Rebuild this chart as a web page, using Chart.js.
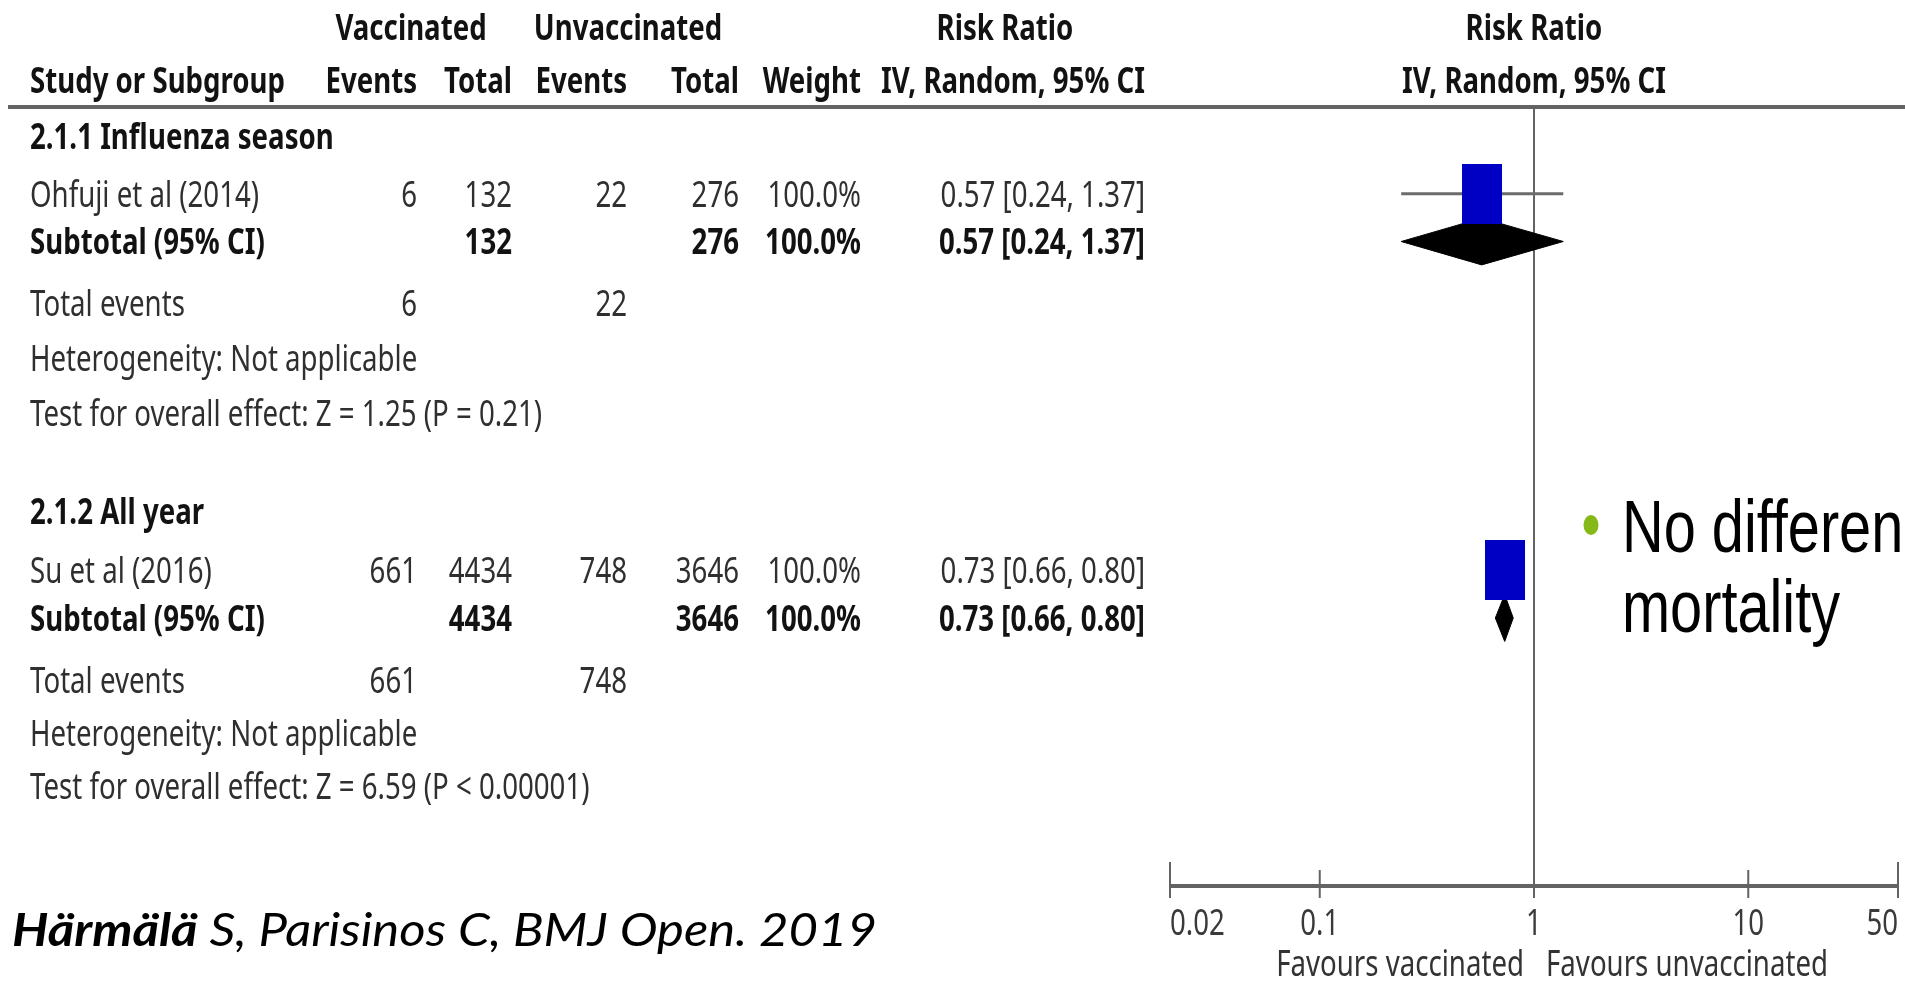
<!DOCTYPE html>
<html>
<head>
<meta charset="utf-8">
<title>Forest plot – mortality, vaccinated vs unvaccinated</title>
<script src="https://cdn.jsdelivr.net/npm/chart.js@4.4.1/dist/chart.umd.min.js"></script>
<style>
  html, body { margin: 0; padding: 0; background: #ffffff; overflow: hidden; }
  canvas { display: block; }
</style>
</head>
<body>
<canvas id="forest" width="1905" height="987"></canvas>
<script>
// ---------------- data ----------------
const groups = ['2.1.1 Influenza season', '2.1.2 All year'];
const studies = ['Ohfuji et al (2014)', 'Su et al (2016)'];
const vaccEvents = [6, 661];
const vaccTotal = [132, 4434];
const unvaccEvents = [22, 748];
const unvaccTotal = [276, 3646];
const weights = [100.0, 100.0];
const studyRR = [0.57, 0.73];
const studyLow = [0.24, 0.66];
const studyHigh = [1.37, 0.80];
const subtotalRR = [0.57, 0.73];
const subtotalLow = [0.24, 0.66];
const subtotalHigh = [1.37, 0.80];
const heterogeneity = ['Not applicable', 'Not applicable'];
const zValues = [1.25, 6.59];
const pTexts = ['P = 0.21', 'P < 0.00001'];
const axisTicks = [0.02, 0.1, 1, 10, 50];
const tickLabels = ['0.02', '0.1', '1', '10', '50'];
const favourLabels = ['Favours vaccinated', 'Favours unvaccinated'];
const bulletLines = ['No difference in', 'mortality'];
const citationBold = 'Härmälä';
const citationRest = ' S, Parisinos C, BMJ Open. 2019';

// ---------------- layout ----------------
// vertical positions are in "line" units of the y scale (0 = header rule)
const ROW = {
  head1: -1.54,
  head2: -0.52,
  group: [0.56, 7.78],
  study: [1.67, 8.91],
  subtotal: [2.59, 9.84],
  totalEvents: [3.77, 11.03],
  het: [4.83, 12.05],
  test: [5.89, 13.08]
};
const COL = { label: 30, vaccEvents: 417, vaccTotal: 512, unvaccEvents: 627, unvaccTotal: 739, weight: 861, rr: 1145 };
const HEAD_CENTER = { vacc: 411, unvacc: 628, rr: 1005 };
const TABLE_FONT = '"Noto Sans", "DejaVu Sans", sans-serif';
const TABLE_SIZE = 34;
const TABLE_SY = 1.06;                       // lettering is slightly taller than the font's own shape
const CAP = 0.714 * TABLE_SIZE * TABLE_SY;
const LABEL_HEADER_WIDTH = 255;
const SQUARE_W = 40, SQUARE_H = 60;
const DIAMOND_HALF = 0.45;
const COLOR_TEXT = '#2f2f2f', COLOR_BOLD = '#121212', COLOR_RULE = '#636363';

const fmt2 = v => v.toFixed(2);
const ciText = (rr, lo, hi) => fmt2(rr) + ' [' + fmt2(lo) + ', ' + fmt2(hi) + ']';

// marker for a study: blue box sized by its weight
function studyBox(weight) {
  const k = Math.sqrt(weight / 100);
  const c = document.createElement('canvas');
  c.width = Math.round(SQUARE_W * k);
  c.height = Math.round(SQUARE_H * k);
  const g = c.getContext('2d');
  g.fillStyle = '#0000c4';
  g.fillRect(0, 0, c.width, c.height);
  return c;
}

const datasets = [];
studies.forEach((name, i) => {
  datasets.push({
    label: name + ' 95% CI',
    data: [{ x: studyLow[i], y: ROW.study[i] }, { x: studyHigh[i], y: ROW.study[i] }],
    showLine: true, borderColor: '#6b6b6b', borderWidth: 3, pointRadius: 0, fill: false, order: 3, clip: false
  });
  datasets.push({
    label: name,
    data: [{ x: studyRR[i], y: ROW.study[i] }],
    pointStyle: studyBox(weights[i]), pointRadius: 3, showLine: false, order: 1, clip: false
  });
  const y = ROW.subtotal[i];
  datasets.push({
    label: groups[i] + ' subtotal',
    data: [
      { x: subtotalLow[i], y: y },
      { x: subtotalRR[i], y: y - DIAMOND_HALF },
      { x: subtotalHigh[i], y: y },
      { x: subtotalRR[i], y: y + DIAMOND_HALF },
      { x: subtotalLow[i], y: y }
    ],
    showLine: true, fill: 'shape', backgroundColor: '#000000', borderColor: '#000000',
    borderWidth: 1, pointRadius: 0, tension: 0, order: 2, clip: false
  });
});

// text drawn with a horizontal squeeze so the tall, narrow lettering fits the columns
function drawText(ctx, s, x, baseline, o) {
  ctx.save();
  ctx.font = (o.italic ? 'italic ' : '') + (o.bold ? 'bold ' : '') + o.size + 'px ' + o.family;
  ctx.fillStyle = o.color;
  ctx.textAlign = 'left';
  ctx.textBaseline = 'alphabetic';
  const w = ctx.measureText(s).width * o.sx;
  let left = x;
  if (o.align === 'right') left = x - w;
  else if (o.align === 'center') left = x - w / 2;
  ctx.translate(left, baseline);
  ctx.scale(o.sx, o.sy || 1);
  ctx.fillText(s, 0, 0);
  ctx.restore();
  return w;
}

let tableSx = null;
function tableStyle(ctx, bold, align, color) {
  if (tableSx === null) {
    ctx.save();
    ctx.font = 'bold ' + TABLE_SIZE + 'px ' + TABLE_FONT;
    tableSx = LABEL_HEADER_WIDTH / ctx.measureText('Study or Subgroup').width;
    ctx.restore();
  }
  return { size: TABLE_SIZE, family: TABLE_FONT, bold: bold, align: align, sx: tableSx, sy: TABLE_SY,
           color: color || (bold ? COLOR_BOLD : COLOR_TEXT) };
}

const forestDecor = {
  id: 'forestDecor',
  beforeDatasetsDraw(chart) {
    const { ctx, chartArea: a, scales: { x } } = chart;
    ctx.save();
    ctx.strokeStyle = COLOR_RULE;
    // header rule
    ctx.lineWidth = 4;
    ctx.beginPath(); ctx.moveTo(8, a.top); ctx.lineTo(chart.width, a.top); ctx.stroke();
    // line of no effect
    const x1 = x.getPixelForValue(1);
    ctx.lineWidth = 2;
    ctx.beginPath(); ctx.moveTo(x1, a.top); ctx.lineTo(x1, a.bottom); ctx.stroke();
    // axis line
    ctx.lineWidth = 4;
    ctx.beginPath();
    ctx.moveTo(x.getPixelForValue(x.min) - 1, a.bottom);
    ctx.lineTo(x.getPixelForValue(x.max) + 1, a.bottom);
    ctx.stroke();
    // tick marks
    ctx.lineWidth = 2;
    x.ticks.forEach((t, i) => {
      const px = x.getPixelForValue(t.value);
      const outer = i === 0 || i === x.ticks.length - 1;
      ctx.beginPath();
      ctx.moveTo(px, a.bottom - (outer ? 24 : 16));
      ctx.lineTo(px, a.bottom + 12);
      ctx.stroke();
    });
    ctx.restore();
  },
  afterDraw(chart) {
    const { ctx, chartArea: a, scales: { x, y } } = chart;
    const base = line => y.getPixelForValue(line) + CAP / 2;
    const R = (bold) => tableStyle(ctx, bold, 'right');
    const L = (bold) => tableStyle(ctx, bold, 'left');
    const C = (bold) => tableStyle(ctx, bold, 'center');

    // column headers
    drawText(ctx, 'Vaccinated', HEAD_CENTER.vacc, base(ROW.head1), C(true));
    drawText(ctx, 'Unvaccinated', HEAD_CENTER.unvacc, base(ROW.head1), C(true));
    drawText(ctx, 'Risk Ratio', HEAD_CENTER.rr, base(ROW.head1), C(true));
    const x1 = x.getPixelForValue(1);
    drawText(ctx, 'Risk Ratio', x1, base(ROW.head1), C(true));
    drawText(ctx, 'Study or Subgroup', COL.label, base(ROW.head2), L(true));
    drawText(ctx, 'Events', COL.vaccEvents, base(ROW.head2), R(true));
    drawText(ctx, 'Total', COL.vaccTotal, base(ROW.head2), R(true));
    drawText(ctx, 'Events', COL.unvaccEvents, base(ROW.head2), R(true));
    drawText(ctx, 'Total', COL.unvaccTotal, base(ROW.head2), R(true));
    drawText(ctx, 'Weight', COL.weight, base(ROW.head2), R(true));
    drawText(ctx, 'IV, Random, 95% CI', COL.rr, base(ROW.head2), R(true));
    drawText(ctx, 'IV, Random, 95% CI', x1, base(ROW.head2), C(true));

    // subgroup blocks
    groups.forEach((g, i) => {
      drawText(ctx, g, COL.label, base(ROW.group[i]), L(true));

      let b = base(ROW.study[i]);
      drawText(ctx, studies[i], COL.label, b, L(false));
      drawText(ctx, String(vaccEvents[i]), COL.vaccEvents, b, R(false));
      drawText(ctx, String(vaccTotal[i]), COL.vaccTotal, b, R(false));
      drawText(ctx, String(unvaccEvents[i]), COL.unvaccEvents, b, R(false));
      drawText(ctx, String(unvaccTotal[i]), COL.unvaccTotal, b, R(false));
      drawText(ctx, weights[i].toFixed(1) + '%', COL.weight, b, R(false));
      drawText(ctx, ciText(studyRR[i], studyLow[i], studyHigh[i]), COL.rr, b, R(false));

      b = base(ROW.subtotal[i]);
      drawText(ctx, 'Subtotal (95% CI)', COL.label, b, L(true));
      drawText(ctx, String(vaccTotal[i]), COL.vaccTotal, b, R(true));
      drawText(ctx, String(unvaccTotal[i]), COL.unvaccTotal, b, R(true));
      drawText(ctx, weights[i].toFixed(1) + '%', COL.weight, b, R(true));
      drawText(ctx, ciText(subtotalRR[i], subtotalLow[i], subtotalHigh[i]), COL.rr, b, R(true));

      b = base(ROW.totalEvents[i]);
      drawText(ctx, 'Total events', COL.label, b, L(false));
      drawText(ctx, String(vaccEvents[i]), COL.vaccEvents, b, R(false));
      drawText(ctx, String(unvaccEvents[i]), COL.unvaccEvents, b, R(false));

      drawText(ctx, 'Heterogeneity: ' + heterogeneity[i], COL.label, base(ROW.het[i]), L(false));
      drawText(ctx, 'Test for overall effect: Z = ' + zValues[i].toFixed(2) + ' (' + pTexts[i] + ')',
               COL.label, base(ROW.test[i]), L(false));
    });

    // axis tick labels
    const tickBase = a.bottom + 49;
    x.ticks.forEach((t, i) => {
      const px = x.getPixelForValue(t.value);
      const align = i === 0 ? 'left' : (i === x.ticks.length - 1 ? 'right' : 'center');
      drawText(ctx, tickLabels[i], px, tickBase, tableStyle(ctx, false, align, '#3a3a3a'));
    });
    const favBase = a.bottom + 90;
    drawText(ctx, favourLabels[0], x1 - 10, favBase, tableStyle(ctx, false, 'right', '#333333'));
    drawText(ctx, favourLabels[1], x1 + 12, favBase, tableStyle(ctx, false, 'left', '#333333'));

    // bullet note
    ctx.save();
    ctx.fillStyle = '#86b817';
    ctx.beginPath();
    ctx.ellipse(1591, 525, 7.5, 10, 0, 0, Math.PI * 2);
    ctx.fill();
    ctx.restore();
    const noteStyle = { size: 74, family: '"Liberation Sans", Arial, sans-serif', bold: false, align: 'left', sx: 0.78, color: '#000000' };
    drawText(ctx, bulletLines[0], 1622, 552, noteStyle);
    drawText(ctx, bulletLines[1], 1622, 632, noteStyle);

    // citation
    const citeFont = 'Lato, "Open Sans", sans-serif';
    ctx.save();
    ctx.font = 'italic bold 46px ' + citeFont;
    const wb = ctx.measureText(citationBold).width;
    ctx.font = 'italic 46px ' + citeFont;
    const wr = ctx.measureText(citationRest).width;
    ctx.restore();
    const citeSx = 865 / (wb + wr);
    const w1 = drawText(ctx, citationBold, 12, 946, { size: 46, family: citeFont, bold: true, italic: true, align: 'left', sx: citeSx, color: '#000000' });
    drawText(ctx, citationRest, 12 + w1, 946, { size: 46, family: citeFont, bold: false, italic: true, align: 'left', sx: citeSx, color: '#000000' });
  }
};

new Chart(document.getElementById('forest'), {
  type: 'scatter',
  data: { datasets: datasets },
  options: {
    responsive: false,
    devicePixelRatio: 1,
    animation: false,
    events: [],
    layout: { padding: { left: 1170, right: 7, top: 107, bottom: 101 } },
    plugins: { legend: { display: false }, tooltip: { enabled: false } },
    scales: {
      x: {
        type: 'logarithmic', min: 0.02, max: 50, bounds: 'data', display: false,
        afterBuildTicks: scale => { scale.ticks = axisTicks.map(v => ({ value: v })); }
      },
      y: { type: 'linear', min: 0, max: 15, reverse: true, display: false }
    }
  },
  plugins: [forestDecor]
});
</script>
</body>
</html>
